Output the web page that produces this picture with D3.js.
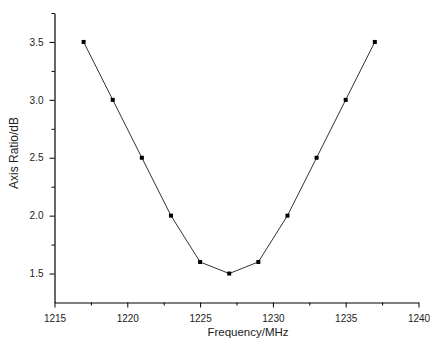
<!DOCTYPE html>
<html>
<head>
<meta charset="utf-8">
<script src="https://cdn.jsdelivr.net/npm/d3@7"></script>
<style>
  html, body { margin: 0; padding: 0; background: #fff; }
  svg { display: block; }
  text { font-family: Arial, "Liberation Sans", sans-serif; }
</style>
</head>
<body>
<svg id="chart" width="430" height="343"></svg>
<script>
const frequencies = [1217, 1219, 1221, 1223, 1225, 1227, 1229, 1231, 1233, 1235, 1237];
const axisRatio   = [3.5, 3.0, 2.5, 2.0, 1.6, 1.5, 1.6, 2.0, 2.5, 3.0, 3.5];
const xMajorTicks = [1215, 1220, 1225, 1230, 1235, 1240];
const xMinorTicks = [1217.5, 1222.5, 1227.5, 1232.5, 1237.5];
const yMajorTicks = [1.5, 2.0, 2.5, 3.0, 3.5];
const yMinorTicks = [1.75, 2.25, 2.75, 3.25, 3.75];

const W = 430, H = 343;
const margin = {left: 54.5, right: 11.5, top: 13, bottom: 40.5};
const svg = d3.select("#chart");

const x = d3.scaleLinear().domain([1215, 1240]).range([margin.left, W - margin.right]);
const y = d3.scaleLinear().domain([1.25, 3.75]).range([H - margin.bottom, margin.top]);

// minor ticks
svg.append("g")
  .attr("transform", `translate(0,${H - margin.bottom})`)
  .call(d3.axisBottom(x).tickValues(xMinorTicks).tickSize(3).tickFormat(""))
  .call(g => g.select(".domain").remove())
  .call(g => g.selectAll("line").attr("stroke", "#000"));
svg.append("g")
  .attr("transform", `translate(${margin.left},0)`)
  .call(d3.axisLeft(y).tickValues(yMinorTicks).tickSize(3).tickFormat(""))
  .call(g => g.select(".domain").remove())
  .call(g => g.selectAll("line").attr("stroke", "#000"));

// major axes
const xAxis = svg.append("g")
  .attr("transform", `translate(0,${H - margin.bottom})`)
  .call(d3.axisBottom(x).tickValues(xMajorTicks).tickSize(5).tickSizeOuter(0).tickPadding(7).tickFormat(d3.format("d")));
const yAxis = svg.append("g")
  .attr("transform", `translate(${margin.left},0)`)
  .call(d3.axisLeft(y).tickValues(yMajorTicks).tickSize(5).tickSizeOuter(0).tickPadding(6).tickFormat(d3.format(".1f")));
[xAxis, yAxis].forEach(g => {
  g.select(".domain").attr("stroke", "#000").attr("stroke-width", 1.2);
  g.selectAll("line").attr("stroke", "#000");
  g.selectAll("text").attr("font-size", 10).attr("fill", "#222")
    .attr("font-family", "Arial, 'Liberation Sans', sans-serif");
});

// line
const line = d3.line().x((d, i) => x(frequencies[i])).y(d => y(d));
svg.append("path")
  .datum(axisRatio)
  .attr("fill", "none")
  .attr("stroke", "#333")
  .attr("stroke-width", 1)
  .attr("d", line);

// markers
svg.append("g").selectAll("rect")
  .data(axisRatio)
  .join("rect")
  .attr("x", (d, i) => x(frequencies[i]) - 2)
  .attr("y", d => y(d) - 2)
  .attr("width", 4)
  .attr("height", 4)
  .attr("fill", "#000");

// axis titles
svg.append("text")
  .attr("x", 248)
  .attr("y", 336)
  .attr("text-anchor", "middle")
  .attr("font-size", 11.5)
  .attr("fill", "#222")
  .text("Frequency/MHz");

svg.append("text")
  .attr("transform", "translate(18,153) rotate(-90)")
  .attr("text-anchor", "middle")
  .attr("font-size", 12)
  .attr("fill", "#222")
  .text("Axis Ratio/dB");
</script>
</body>
</html>
